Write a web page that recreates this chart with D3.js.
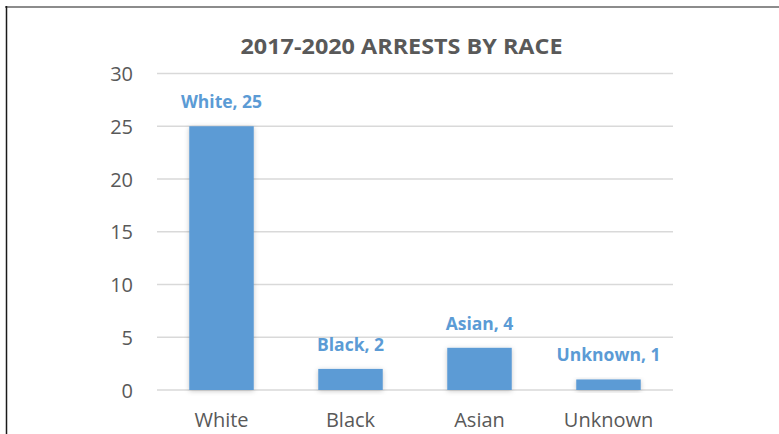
<!DOCTYPE html>
<html>
<head>
<meta charset="utf-8">
<script src="https://cdn.jsdelivr.net/npm/d3@7"></script>
<style>
  html, body { margin: 0; padding: 0; background: #fff; }
  svg { display: block; }
</style>
</head>
<body>
<svg id="chart" width="779" height="434"></svg>
<script>
// Arrest counts by race, 2017-2020
const categories = ["White", "Black", "Asian", "Unknown"];
const arrests = [25, 2, 4, 1];
const yTicks = [0, 5, 10, 15, 20, 25, 30];
const chartTitle = "2017-2020 ARRESTS BY RACE";

const W = 779, H = 434;
const plot = { left: 157, right: 673, top: 73.5, bottom: 390 };
const barColor = "#5B9BD5";
const textGray = "#595959";
const font = "'Open Sans', 'DejaVu Sans', sans-serif";

const svg = d3.select("#chart");

// soft shadow under the bars
const defs = svg.append("defs");
const f = defs.append("filter").attr("id", "barShadow")
  .attr("x", "-20%").attr("y", "-20%").attr("width", "140%").attr("height", "140%");
f.append("feDropShadow").attr("dx", 0).attr("dy", 1).attr("stdDeviation", 2.5)
  .attr("flood-color", "#000").attr("flood-opacity", 0.22);

// chart frame: grey top edge, dark left edge
svg.append("line").attr("x1", 5).attr("x2", W).attr("y1", 7).attr("y2", 7)
  .attr("stroke", "#8c8c8c").attr("stroke-width", 2);
svg.append("line").attr("x1", 6.5).attr("x2", 6.5).attr("y1", 6).attr("y2", H)
  .attr("stroke", "#1a1a1a").attr("stroke-width", 1.5);

const x = d3.scaleBand().domain(categories)
  .range([plot.left, plot.right]).paddingInner(0.5).paddingOuter(0.25);
const y = d3.scaleLinear().domain([0, 30]).range([plot.bottom, plot.top]);

// title
svg.append("text")
  .attr("x", 401.5).attr("y", 54)
  .attr("text-anchor", "middle")
  .attr("font-family", font).attr("font-weight", 700).attr("font-size", 22)
  .attr("fill", textGray)
  .attr("textLength", 322).attr("lengthAdjust", "spacingAndGlyphs")
  .text(chartTitle);

// horizontal gridlines
svg.append("g").selectAll("line").data(yTicks).join("line")
  .attr("x1", plot.left).attr("x2", plot.right)
  .attr("y1", d => y(d)).attr("y2", d => y(d))
  .attr("stroke", "#d9d9d9").attr("stroke-width", 1.5);

// y axis labels
const yAxis = d3.axisLeft(y).tickValues(yTicks).tickSize(0).tickPadding(0);
const yg = svg.append("g").attr("transform", `translate(133,0)`).call(yAxis);
yg.select(".domain").remove();
yg.selectAll("text")
  .attr("font-family", font).attr("font-size", 20).attr("fill", textGray)
  .attr("dy", "0.36em");

// bars
svg.append("g").selectAll("rect").data(categories).join("rect")
  .attr("x", d => x(d))
  .attr("y", (d, i) => y(arrests[i]))
  .attr("width", x.bandwidth())
  .attr("height", (d, i) => y(0) - y(arrests[i]))
  .attr("fill", barColor)
  .attr("filter", "url(#barShadow)");

// data labels
svg.append("g").selectAll("text").data(categories).join("text")
  .attr("x", d => x(d) + x.bandwidth() / 2)
  .attr("y", (d, i) => y(arrests[i]) - 18)
  .attr("text-anchor", "middle")
  .attr("font-family", font).attr("font-weight", 700).attr("font-size", 17.5)
  .attr("fill", barColor)
  .text((d, i) => `${d}, ${arrests[i]}`);

// category axis labels
const xAxis = d3.axisBottom(x).tickSize(0).tickPadding(0);
const xg = svg.append("g").attr("transform", `translate(0,427)`).call(xAxis);
xg.select(".domain").remove();
xg.selectAll("text")
  .attr("font-family", font).attr("font-size", 20).attr("fill", textGray)
  .attr("dy", 0);
</script>
</body>
</html>
